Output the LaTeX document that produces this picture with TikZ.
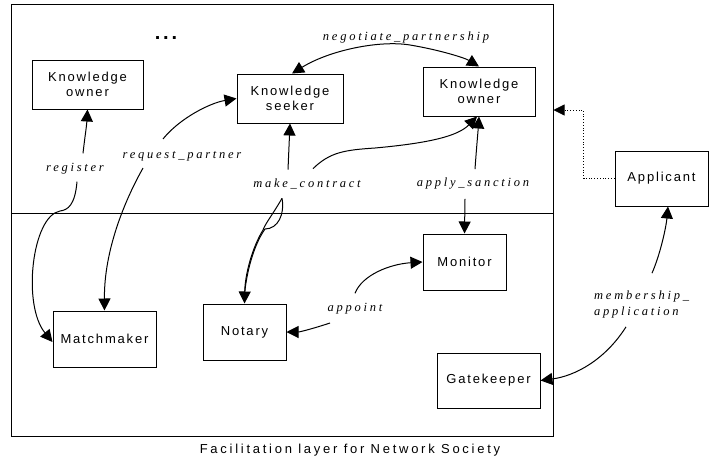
\documentclass[tikz,border=0pt]{standalone}
\usepackage{fontspec}
\newfontfamily\nodefont[LetterSpace=14]{Liberation Sans}
\newfontfamily\capfont[LetterSpace=21]{Liberation Sans}
\newfontfamily\lblfont[LetterSpace=22]{Liberation Serif}
\usetikzlibrary{arrows.meta}
\begin{document}
\begin{tikzpicture}[x=1pt,y=-1pt,
  box/.style={draw,line width=1pt,font=\nodefont\fontsize{13}{14.5}\selectfont,align=center,inner sep=0pt},
  lbl/.style={font=\lblfont\itshape\fontsize{12.5}{16}\selectfont,inner sep=1pt,align=left},
  conn/.style={line width=1pt,-{Triangle[length=12pt,width=12pt]}},
  plain/.style={line width=1pt},
  dotline/.style={line width=0.8pt,dotted,-{Triangle[length=11pt,width=11pt]}},
  ]
\useasboundingbox (0,0) rectangle (709,461);
% outer frame and divider
\node[draw,line width=1pt,minimum width=541.7pt,minimum height=432pt,inner sep=0pt] (outer) at (282.15,220) {};
\draw[line width=1pt] (outer.west |- 0,213) -- (outer.east |- 0,213);

% boxes
\node[box,minimum width=111pt,minimum height=49pt] (ko1) at (87.5,84.5) {Knowledge\\owner};
\node[box,minimum width=106pt,minimum height=49pt] (ks) at (290,98.5) {Knowledge\\seeker};
\node[box,minimum width=112pt,minimum height=49pt] (ko2) at (479,91.5) {Knowledge\\owner};
\node[box,minimum width=93pt,minimum height=55pt] (app) at (661.5,178.5) {Applicant};
\node[box,minimum width=103pt,minimum height=56pt] (mm) at (104.5,339) {Matchmaker};
\node[box,minimum width=83pt,minimum height=56pt] (nt) at (244.5,332) {Notary};
\node[box,minimum width=83pt,minimum height=56pt] (mon) at (464.5,262) {Monitor};
\node[box,minimum width=103pt,minimum height=55pt] (gk) at (488.5,380.5) {Gatekeeper};

% labels
\node[font=\nodefont\bfseries\fontsize{20}{22}\selectfont,inner sep=0pt] (dots) at (166,38) {...};
\node[lbl] (neg) at (406,37) {negotiate\_partnership};
\node[lbl] (reg) at (75,169) {register};
\node[lbl] (rp) at (182,156) {request\_partner};
\node[lbl] (mc) at (307,184) {make\_contract};
\node[lbl] (as) at (473,184) {apply\_sanction};
\node[lbl] (ap) at (355,309) {appoint};
\node[lbl,anchor=west,align=left] (ma) at (593,304) {membership\_\\application};
\node[font=\capfont\fontsize{13}{15}\selectfont,inner sep=0pt] (cap) at (350,450) {Facilitation layer for Network Society};

% negotiate_partnership (double arrow)
\draw[line width=1pt,{Triangle[length=12pt,width=12pt]}-{Triangle[length=12pt,width=12pt]}]
  ([xshift=2pt]ks.north) .. controls (330,50) and (380,40) .. (410,45)
  .. controls (440,50) and (465,58) .. (ko2.north);

% register
\draw[conn] ([shift={(8,-9)}]reg.north) .. controls +(2,-18) and +(-1,18) .. (ko1.south);
\draw[conn] ([shift={(2,6)}]reg.south) .. controls (75,205) and (68,210) .. (60,211)
  .. controls (32,216) and (22,305) .. ([yshift=-3pt]mm.west);

% request_partner
\draw[conn] ([shift={(-19,-11)}]rp.north) .. controls (180,118) and (210,103) .. (ks.west);
\draw[conn] ([shift={(-39,6)}]rp.south) .. controls (125,200) and (104,250) .. (mm.north);

% make_contract
\draw[conn] ([shift={(-19,-8)}]mc.north) -- (ks.south);
\draw[conn] ([shift={(6,-9)}]mc.north) .. controls (330,152) and (345,150) .. (375,148)
  .. controls (430,143) and (458,136) .. ([xshift=-2pt]ko2.south);
\draw[plain] ([shift={(-25,8)}]mc.south) .. controls (285,214) and (278,229) .. (265,229)
  .. controls (253,246) and (246,275) .. ([yshift=8pt]nt.north);
\draw[conn] ([shift={(-25,8)}]mc.south) .. controls (273,214) and (265,224) .. (263,230)
  .. controls (252,248) and (245,275) .. (nt.north);

% apply_sanction
\draw[conn] ([shift={(2,-8)}]as.north) .. controls +(1,-15) and +(-1,15) .. (ko2.south);
\draw[conn] ([shift={(-8,8)}]as.south) -- (mon.north);

% appoint
\draw[conn] ([shift={(0,-9)}]ap.north) .. controls (362,275) and (390,264) .. (mon.west);
\draw[conn] ([shift={(-25,14)}]ap.center) .. controls (315,328) and (300,332) .. (nt.east);

% membership_application
\draw[conn] ([shift={(59,-16)}]ma.north west) .. controls (660,255) and (666,228) .. ([xshift=6.5pt]app.south);
\draw[conn] ([shift={(33,8)}]ma.south west) .. controls (605,360) and (575,376) .. (gk.east);

% dotted applicant link
\draw[dotline] (app.west) -- ++(-31,0) |- (outer.east |- 0,110);
\end{tikzpicture}
\end{document}
